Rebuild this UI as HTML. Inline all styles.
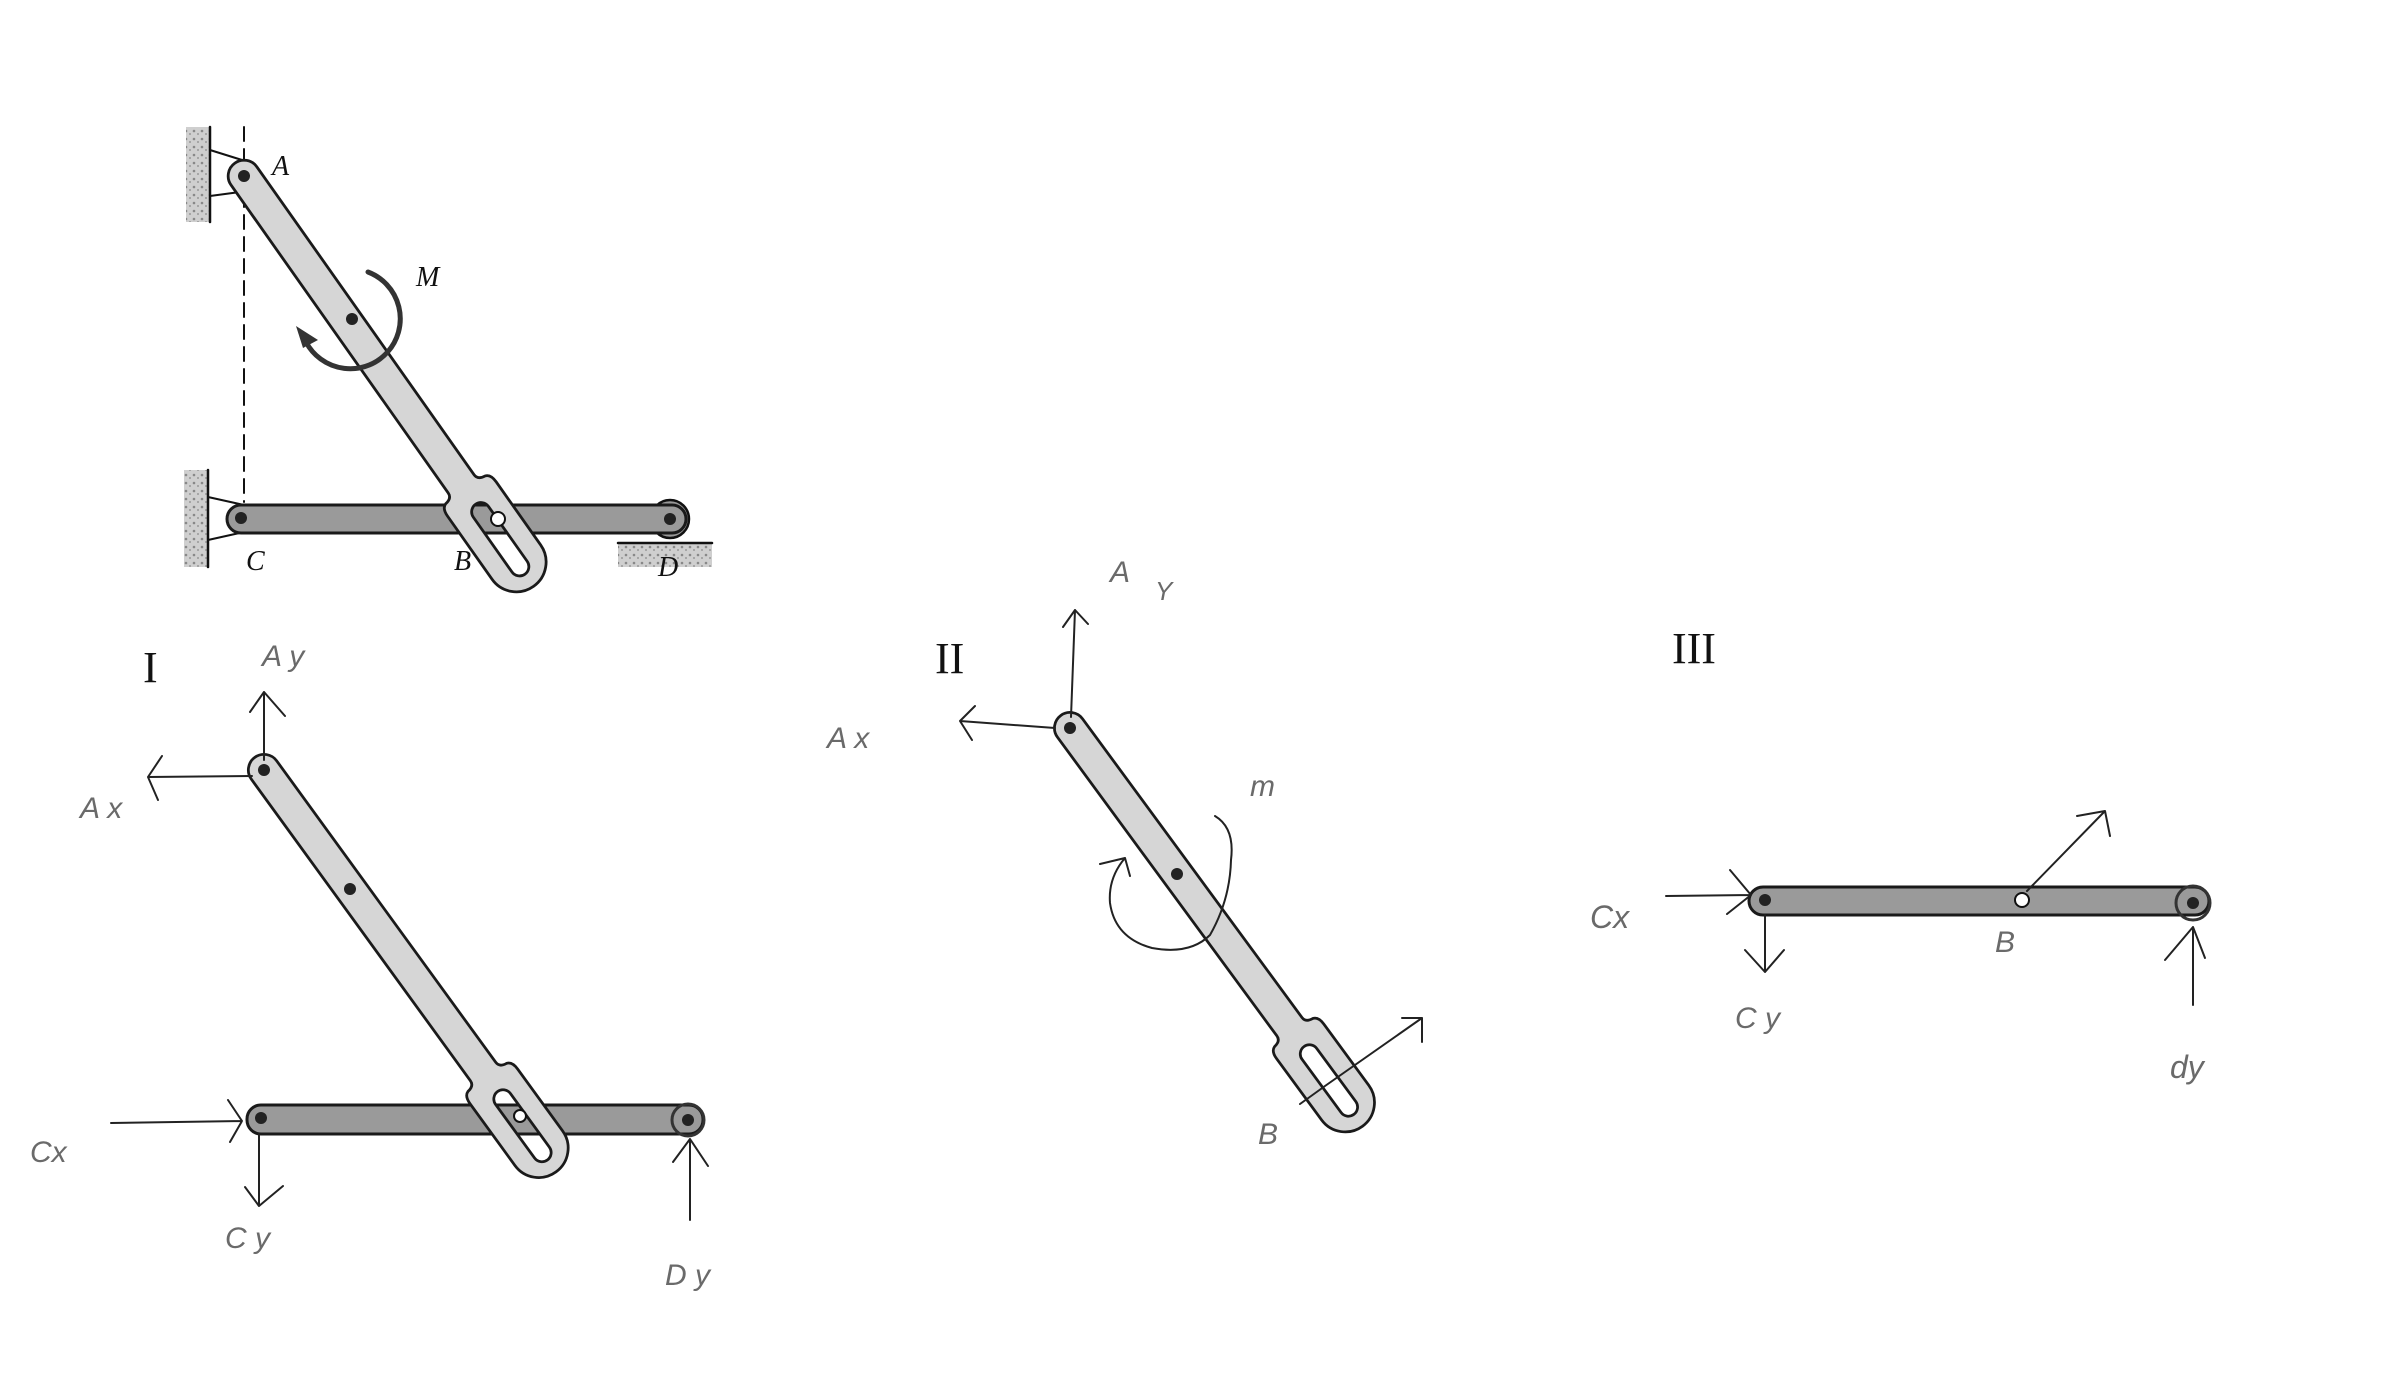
<!DOCTYPE html>
<html><head><meta charset="utf-8"><style>
html,body{margin:0;padding:0;background:#fff;}
svg{display:block;}
.hw{font-family:"Liberation Sans",sans-serif;fill:#6a6a6a;font-style:italic;}
.bk{font-family:"Liberation Serif",serif;fill:#111;}
</style></head><body>
<svg width="2400" height="1400" viewBox="0 0 2400 1400" xmlns="http://www.w3.org/2000/svg">
<defs>
<path id="lnk" fill-rule="evenodd" fill="#d6d6d6" stroke="#1a1a1a" stroke-width="3"
 d="M 0,-17 L 405,-17 Q 412,-17 413,-26 Q 415,-32 425,-32 L 508,-32 A 32 32 0 0 1 508,32 L 425,32 Q 415,32 413,26 Q 412,17 405,17 L 0,17 A 17 17 0 0 1 0,-17 Z M 442,-10 L 514,-10 A 10 10 0 0 1 514,10 L 442,10 A 10 10 0 0 1 442,-10 Z"/>
<pattern id="hatch" width="8" height="8" patternUnits="userSpaceOnUse"><rect width="8" height="8" fill="#cfcfcf"/><circle cx="2" cy="3" r="1.3" fill="#888"/><circle cx="6" cy="6" r="1" fill="#999"/></pattern>
</defs>
<g stroke-linecap="round" stroke-linejoin="round">
<!-- TOP DIAGRAM -->
<rect x="186" y="127" width="24" height="95" fill="url(#hatch)"/>
<line x1="210" y1="127" x2="210" y2="222" stroke="#111" stroke-width="2.5"/>
<polyline points="210,150 242,160 254,170" fill="none" stroke="#111" stroke-width="2"/>
<line x1="210" y1="196" x2="240" y2="192" stroke="#111" stroke-width="2"/>
<rect x="184" y="470" width="24" height="97" fill="url(#hatch)"/>
<line x1="208" y1="470" x2="208" y2="567" stroke="#111" stroke-width="2.5"/>
<line x1="208" y1="497" x2="244" y2="505" stroke="#111" stroke-width="2"/>
<line x1="208" y1="540" x2="244" y2="532" stroke="#111" stroke-width="2"/>
<line x1="244" y1="127" x2="244" y2="502" stroke="#111" stroke-width="2" stroke-dasharray="14,8"/>
<rect x="618" y="544" width="94" height="23" fill="url(#hatch)"/>
<line x1="618" y1="543" x2="712" y2="543" stroke="#111" stroke-width="2.5"/>
<circle cx="670" cy="519" r="19" fill="#999" stroke="#111" stroke-width="2.5"/>
<rect x="227" y="505" width="459" height="28" rx="14" fill="#9a9a9a" stroke="#1a1a1a" stroke-width="3"/>
<circle cx="241" cy="518" r="6" fill="#222"/><circle cx="670" cy="519" r="6" fill="#222"/>
<use href="#lnk" transform="translate(244,176) rotate(54.8) scale(0.93)"/>
<circle cx="244" cy="176" r="6" fill="#222"/><circle cx="352" cy="319" r="6" fill="#222"/>
<circle cx="498" cy="519" r="7" fill="#fff" stroke="#111" stroke-width="2"/>
<path d="M 368,272 A 50 50 0 1 1 306,342" fill="none" stroke="#333" stroke-width="5"/>
<polygon points="296,326 318,340 303,348" fill="#333"/>
<text x="272" y="175" class="bk" font-size="28" font-style="italic">A</text>
<text x="416" y="286" class="bk" font-size="28" font-style="italic">M</text>
<text x="246" y="570" class="bk" font-size="28" font-style="italic">C</text>
<text x="454" y="570" class="bk" font-size="28" font-style="italic">B</text>
<text x="658" y="576" class="bk" font-size="28" font-style="italic">D</text>

<!-- DIAGRAM I -->
<text x="143" y="682" class="bk" font-size="44">I</text>
<rect x="247" y="1105" width="456" height="29" rx="14" fill="#9a9a9a" stroke="#1a1a1a" stroke-width="3"/>
<circle cx="688" cy="1120" r="16" fill="none" stroke="#333" stroke-width="3"/>
<circle cx="261" cy="1118" r="6" fill="#222"/><circle cx="688" cy="1120" r="6" fill="#222"/>
<use href="#lnk" transform="translate(264,770) rotate(54) scale(0.92)"/>
<circle cx="264" cy="770" r="6" fill="#222"/><circle cx="350" cy="889" r="6" fill="#222"/>
<circle cx="520" cy="1116" r="6" fill="#fff" stroke="#111" stroke-width="2"/>
<g stroke="#222" stroke-width="2" fill="none">
<path d="M264,760 L264,692 M250,712 L264,692 L285,716"/>
<path d="M252,776 L148,777 M162,756 L148,777 L158,800"/>
<path d="M111,1123 L242,1121 M228,1100 L242,1121 L230,1142"/>
<path d="M259,1134 L259,1206 M245,1187 L259,1206 L283,1186"/>
<path d="M690,1220 L690,1139 M673,1162 L690,1139 L708,1166"/>
</g>
<text x="262" y="666" class="hw" font-size="30">A y</text>
<text x="80" y="818" class="hw" font-size="30">A x</text>
<text x="30" y="1162" class="hw" font-size="30">Cx</text>
<text x="225" y="1248" class="hw" font-size="30">C y</text>
<text x="665" y="1285" class="hw" font-size="30">D y</text>

<!-- DIAGRAM II -->
<text x="935" y="673" class="bk" font-size="44">II</text>
<use href="#lnk" transform="translate(1070,728) rotate(53.7) scale(0.915)"/>
<circle cx="1070" cy="728" r="6" fill="#222"/><circle cx="1177" cy="874" r="6" fill="#222"/>
<g stroke="#222" stroke-width="2" fill="none">
<path d="M1071,717 L1075,610 M1063,627 L1075,610 L1088,624"/>
<path d="M1055,728 L960,721 M975,706 L960,721 L972,740"/>
<path d="M1300,1104 L1325,1086 L1422,1018 M1402,1018 L1422,1018 L1422,1042"/>
<path d="M1215,816 Q1235,828 1231,860 Q1230,900 1210,935 Q1190,955 1152,948 Q1115,938 1110,903 Q1108,878 1125,858 M1100,864 L1125,858 L1130,876"/>
</g>
<text x="1110" y="582" class="hw" font-size="30">A</text>
<text x="1155" y="600" class="hw" font-size="26">Y</text>
<text x="827" y="748" class="hw" font-size="30">A x</text>
<text x="1250" y="796" class="hw" font-size="30">m</text>
<text x="1258" y="1144" class="hw" font-size="30">B</text>

<!-- DIAGRAM III -->
<text x="1672" y="663" class="bk" font-size="44">III</text>
<rect x="1749" y="887" width="460" height="28" rx="14" fill="#9a9a9a" stroke="#1a1a1a" stroke-width="3"/>
<circle cx="2193" cy="903" r="17" fill="none" stroke="#333" stroke-width="3"/>
<circle cx="1765" cy="900" r="6" fill="#222"/><circle cx="2193" cy="903" r="6" fill="#222"/>
<circle cx="2022" cy="900" r="7" fill="#fff" stroke="#111" stroke-width="2"/>
<g stroke="#222" stroke-width="2" fill="none">
<path d="M1666,896 L1751,895 M1730,870 L1751,895 L1727,914"/>
<path d="M1765,915 L1765,972 M1745,950 L1765,972 L1784,950"/>
<path d="M2027,891 L2105,811 M2077,816 L2105,811 L2110,836"/>
<path d="M2193,1005 L2193,927 M2165,960 L2193,927 L2205,958"/>
</g>
<text x="1590" y="928" class="hw" font-size="32">Cx</text>
<text x="1735" y="1028" class="hw" font-size="30">C y</text>
<text x="1995" y="952" class="hw" font-size="30">B</text>
<text x="2170" y="1078" class="hw" font-size="32">dy</text>
</g>
</svg>
</body></html>
